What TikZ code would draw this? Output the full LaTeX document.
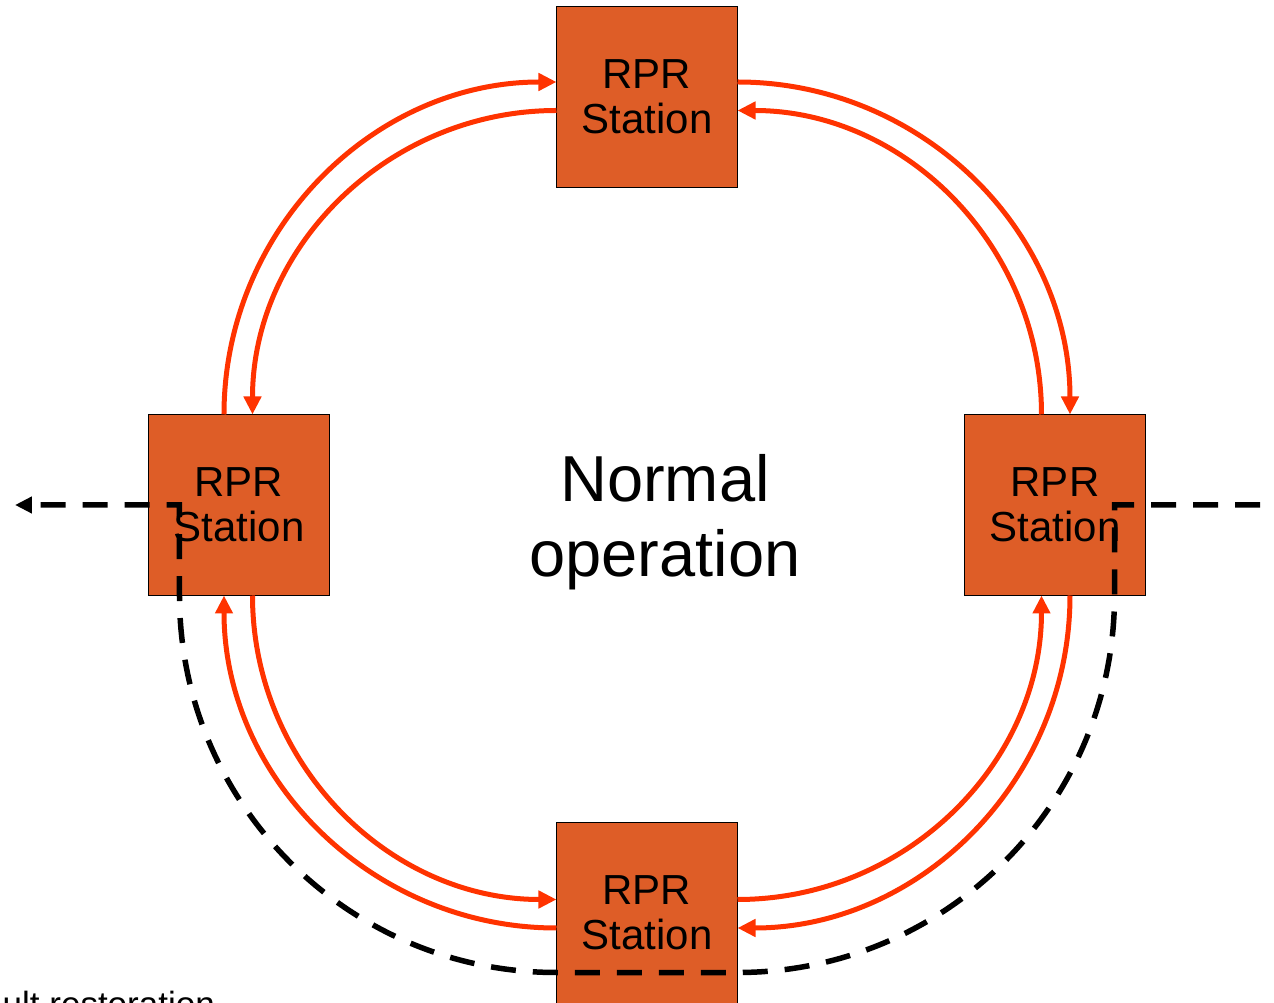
\documentclass[tikz,border=0pt]{standalone}
\usepackage{fontspec}
\setmainfont{Liberation Sans}
\usetikzlibrary{arrows.meta}
\definecolor{boxfill}{RGB}{222,93,39}
\definecolor{ringred}{RGB}{255,51,0}
\begin{document}
\begin{tikzpicture}[x=1pt,y=1pt,
  station/.style={draw=black, line width=1.5pt, fill=boxfill, minimum size=181pt,
    inner sep=0pt, outer sep=0pt, align=center, font=\fontsize{42}{45}\selectfont},
  ring/.style={draw=ringred, line width=5pt, -{Triangle[length=18pt,width=17pt]}},
  fault/.style={draw=black, line width=5.5pt, dash pattern=on 25pt off 17pt, dash phase=28pt,
    -{Triangle[length=17pt,width=16pt]}},
  bigtext/.style={font=\fontsize{65}{75}\selectfont, align=center},
  smalltext/.style={font=\fontsize{35}{42}\selectfont, inner sep=0pt}
]
\clip (-647,-498) rectangle (627,505);

% stations
\node[station] (T) at (0,408) {RPR\\Station};
\node[station] (L) at (-408,0) {RPR\\Station};
\node[station] (R) at (408,0) {RPR\\Station};
\node[station] (B) at (0,-408) {RPR\\Station};

% outer ring (clockwise)
\draw[ring] ([xshift=-15pt]L.north) arc[start angle=180, end angle=90, radius=332.5pt];
\draw[ring] ([yshift=15pt]T.east) arc[start angle=90, end angle=0, radius=332.5pt];
\draw[ring] ([xshift=15pt]R.south) arc[start angle=0, end angle=-90, radius=332.5pt];
\draw[ring] ([yshift=-15pt]B.west) arc[start angle=-90, end angle=-180, radius=332.5pt];

% inner ring (counter-clockwise)
\draw[ring] ([yshift=-13.5pt]T.west) arc[start angle=90, end angle=180, radius=304pt];
\draw[ring] ([xshift=-13.5pt]R.north) arc[start angle=0, end angle=90, radius=304pt];
\draw[ring] ([yshift=13.5pt]B.east) arc[start angle=-90, end angle=0, radius=304pt];
\draw[ring] ([xshift=13.5pt]L.south) arc[start angle=180, end angle=270, radius=304pt];

% fault restoration path
\coordinate (dashR) at (627,0);
\coordinate (dashL) at (-632,0);
\draw[fault] (dashR) -- ([xshift=59.5pt]R.center) -- ([xshift=59.5pt]R.south)
  arc[start angle=0, end angle=-90, radius=377pt] -- ([yshift=-59.5pt]B.west)
  arc[start angle=-90, end angle=-180, radius=377pt] -- ([xshift=-59.5pt]L.center) -- (dashL);

% labels
\node[bigtext, anchor=base] (normal) at (18,-72) {Normal\\operation};
\node[smalltext, anchor=base east] (faultlabel) at (-432,-511) {Fault restoration};
\end{tikzpicture}
\end{document}
